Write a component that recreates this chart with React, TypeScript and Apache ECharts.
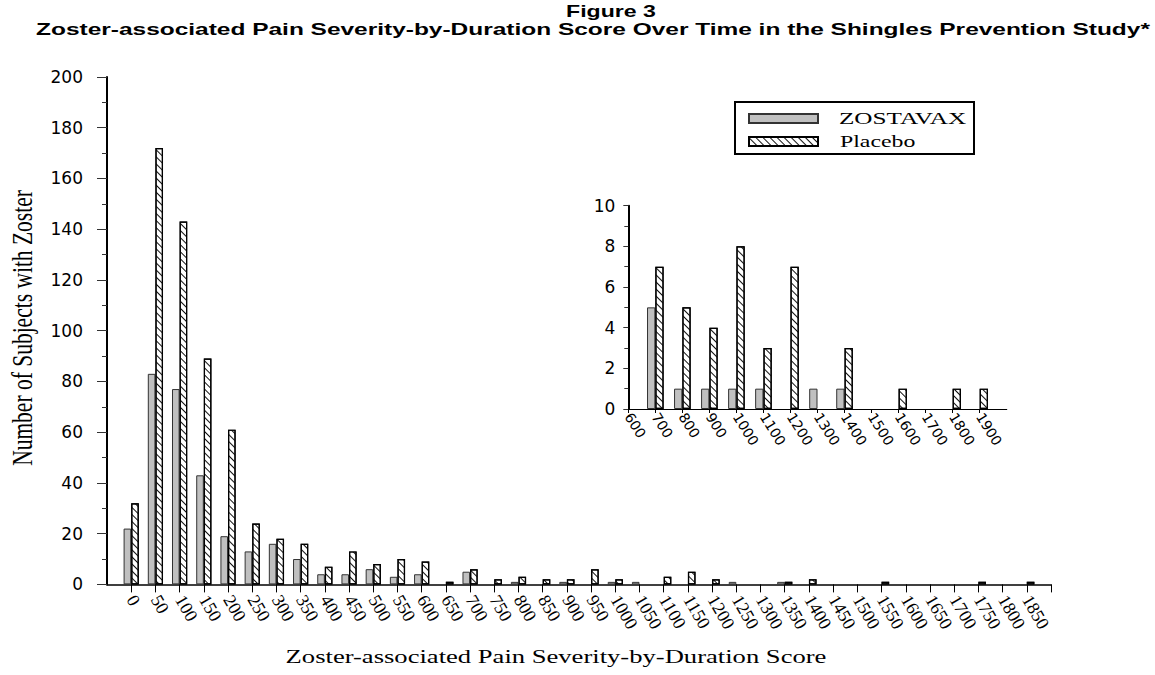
import React, { useEffect, useRef } from "react";
import * as echarts from "echarts";

// Main histogram: score bins (tick labels) and counts
const mainScores = ["0","50","100","150","200","250","300","350","400","450","500","550","600","650","700","750","800","850","900","950","1000","1050","1100","1150","1200","1250","1300","1350","1400","1450","1500","1550","1600","1650","1700","1750","1800","1850"];
const mainZostavax = [22,83,77,43,19,13,16,10,4,4,6,3,4,0,5,0,1,0,1,0,1,1,0,0,0,1,0,1,0,0,0,0,0,0,0,0,0,0];
const mainPlacebo = [32,172,143,89,61,24,18,16,7,13,8,10,9,1,6,2,3,2,2,6,2,0,3,5,2,0,0,1,2,0,0,1,0,0,0,1,0,1];

// Inset histogram (scores above 600)
const insetStart = "600";
const insetScores = ["700","800","900","1000","1100","1200","1300","1400","1500","1600","1700","1800","1900"];
const insetZostavax = [5,1,1,1,1,0,1,1,0,0,0,0,0];
const insetPlacebo = [7,5,4,8,3,7,0,3,0,1,0,1,1];

const titleText = "Figure 3";
const subtitleText = "Zoster-associated Pain Severity-by-Duration Score Over Time in the Shingles Prevention Study*";
const xTitle = "Zoster-associated Pain Severity-by-Duration Score";
const yTitle = "Number of Subjects with Zoster";
const seriesNames = ["ZOSTAVAX", "Placebo"];

export default function App() {
  const ref = useRef<HTMLDivElement>(null);
  useEffect(() => {
    if (!ref.current) return;
    const chart = echarts.init(ref.current, null, { renderer: "svg" });
    const mainCats = ["", ...mainScores, " "];
    const insetCats = [insetStart, ...insetScores, " "];
    const hatch = {
      symbol: "rect",
      symbolSize: 1,
      dashArrayX: [1, 0],
      dashArrayY: [1, 3.4],
      rotation: Math.PI / 4,
      color: "#111",
      backgroundColor: "#fff",
    };
    const grayStyle = { color: "#c0c0c0", borderColor: "#333", borderWidth: 1 };
    const hatchStyle = { color: "#fff", borderColor: "#000", borderWidth: 1.2, decal: hatch };
    const toData = (vals: number[]) => [
      null,
      ...vals.map((v) => (v === 0 ? { value: v, itemStyle: { borderWidth: 0 } } : v)),
      null,
    ];
    const serif = "'Liberation Serif', 'Times New Roman', serif";
    const sans = "'Liberation Sans', Arial, sans-serif";
    const option: any = {
      animation: false,
      backgroundColor: "#fff",
      legend: [
        {
          data: [seriesNames[0]],
          left: 748, top: 113, itemWidth: 69, itemHeight: 9, icon: "rect",
          formatter: () => "", textStyle: { fontSize: 6 }, selectedMode: false, padding: 0,
        },
        {
          data: [seriesNames[1]],
          left: 748, top: 136, itemWidth: 69, itemHeight: 9, icon: "rect",
          formatter: () => "", textStyle: { fontSize: 6 }, selectedMode: false, padding: 0,
        },
      ],
      grid: [
        { left: 107, top: 77, width: 944, height: 507.4, containLabel: false },
        { left: 628.3, top: 205.7, width: 378.4, height: 203.3, containLabel: false },
      ],
      xAxis: [
        {
          type: "category", gridIndex: 0, data: mainCats, boundaryGap: false,
          axisLine: { lineStyle: { color: "#000", width: 1.5 } },
          axisTick: { length: 8, lineStyle: { color: "#000" }, interval: (i: number) => i !== 0 },
          axisLabel: { interval: 0, rotate: -60, margin: 12, color: "#000", fontFamily: serif, fontSize: 18 },
          splitLine: { show: false },
        },
        {
          type: "category", gridIndex: 1, data: insetCats, boundaryGap: false,
          axisLine: { lineStyle: { color: "#000", width: 1.2 } },
          axisTick: { length: 4, lineStyle: { color: "#000" }, interval: (i: number) => i !== insetCats.length - 1 },
          axisLabel: { interval: 0, rotate: -58, margin: 5, color: "#000", fontFamily: "'DejaVu Sans', sans-serif", fontSize: 14 },
          splitLine: { show: false },
        },
      ],
      yAxis: [
        {
          type: "value", gridIndex: 0, min: 0, max: 200, interval: 20,
          axisLine: { show: true, lineStyle: { color: "#000", width: 2 } },
          axisTick: { show: true, length: 10, lineStyle: { color: "#333" } },
          minorTick: { show: true, splitNumber: 2, length: 5, lineStyle: { color: "#333" } },
          axisLabel: { margin: 24, color: "#000", fontFamily: "'DejaVu Sans', sans-serif", fontSize: 17 },
          splitLine: { show: false },
        },
        {
          type: "value", gridIndex: 1, min: 0, max: 10, interval: 2,
          axisLine: { show: true, lineStyle: { color: "#000", width: 2 } },
          axisTick: { show: true, length: 5, lineStyle: { color: "#333" } },
          minorTick: { show: true, splitNumber: 2, length: 4, lineStyle: { color: "#333" } },
          axisLabel: { margin: 13, color: "#000", fontFamily: "'DejaVu Sans', sans-serif", fontSize: 17 },
          splitLine: { show: false },
        },
      ],
      series: [
        {
          name: seriesNames[0], type: "bar", xAxisIndex: 0, yAxisIndex: 0,
          data: toData(mainZostavax), barWidth: 7.6, barGap: "0%", itemStyle: grayStyle,
        },
        {
          name: seriesNames[1], type: "bar", xAxisIndex: 0, yAxisIndex: 0,
          data: toData(mainPlacebo), barWidth: 7.6, barGap: "0%", itemStyle: hatchStyle,
        },
        {
          name: seriesNames[0], type: "bar", xAxisIndex: 1, yAxisIndex: 1,
          data: toData(insetZostavax), barWidth: 8.3, barGap: "0%", itemStyle: grayStyle,
        },
        {
          name: seriesNames[1], type: "bar", xAxisIndex: 1, yAxisIndex: 1,
          data: toData(insetPlacebo), barWidth: 8.3, barGap: "0%", itemStyle: hatchStyle,
        },
      ],
      graphic: [
        {
          type: "text", x: 611, y: 11, scaleX: 1.4,
          style: { text: titleText, fontFamily: sans, fontWeight: "bold", fontSize: 16.5, fill: "#000", align: "center", verticalAlign: "middle" },
        },
        {
          type: "text", x: 593, y: 29, scaleX: 1.53,
          style: { text: subtitleText, fontFamily: sans, fontWeight: "bold", fontSize: 16, fill: "#000", align: "center", verticalAlign: "middle" },
        },
        {
          type: "text", x: 556, y: 656, scaleX: 1.4,
          style: { text: xTitle, fontFamily: serif, fontSize: 19, fill: "#000", align: "center", verticalAlign: "middle" },
        },
        {
          type: "text", x: 22, y: 328, rotation: Math.PI / 2, scaleY: 1.4,
          style: { text: yTitle, fontFamily: serif, fontSize: 21.5, fill: "#000", align: "center", verticalAlign: "middle" },
        },
        {
          type: "rect", shape: { x: 735, y: 102, width: 239, height: 52 },
          style: { fill: "none", stroke: "#000", lineWidth: 2 },
        },
        {
          type: "text", x: 839, y: 118, scaleX: 1.48,
          style: { text: seriesNames[0], fontFamily: serif, fontSize: 17, fill: "#000", align: "left", verticalAlign: "middle" },
        },
        {
          type: "text", x: 840, y: 141, scaleX: 1.4,
          style: { text: seriesNames[1], fontFamily: serif, fontSize: 17, fill: "#000", align: "left", verticalAlign: "middle" },
        },
      ],
    };
    chart.setOption(option);
    return () => chart.dispose();
  }, []);
  return <div ref={ref} style={{ position: "absolute", left: 0, top: 0, width: 1155, height: 675 }} />;
}
